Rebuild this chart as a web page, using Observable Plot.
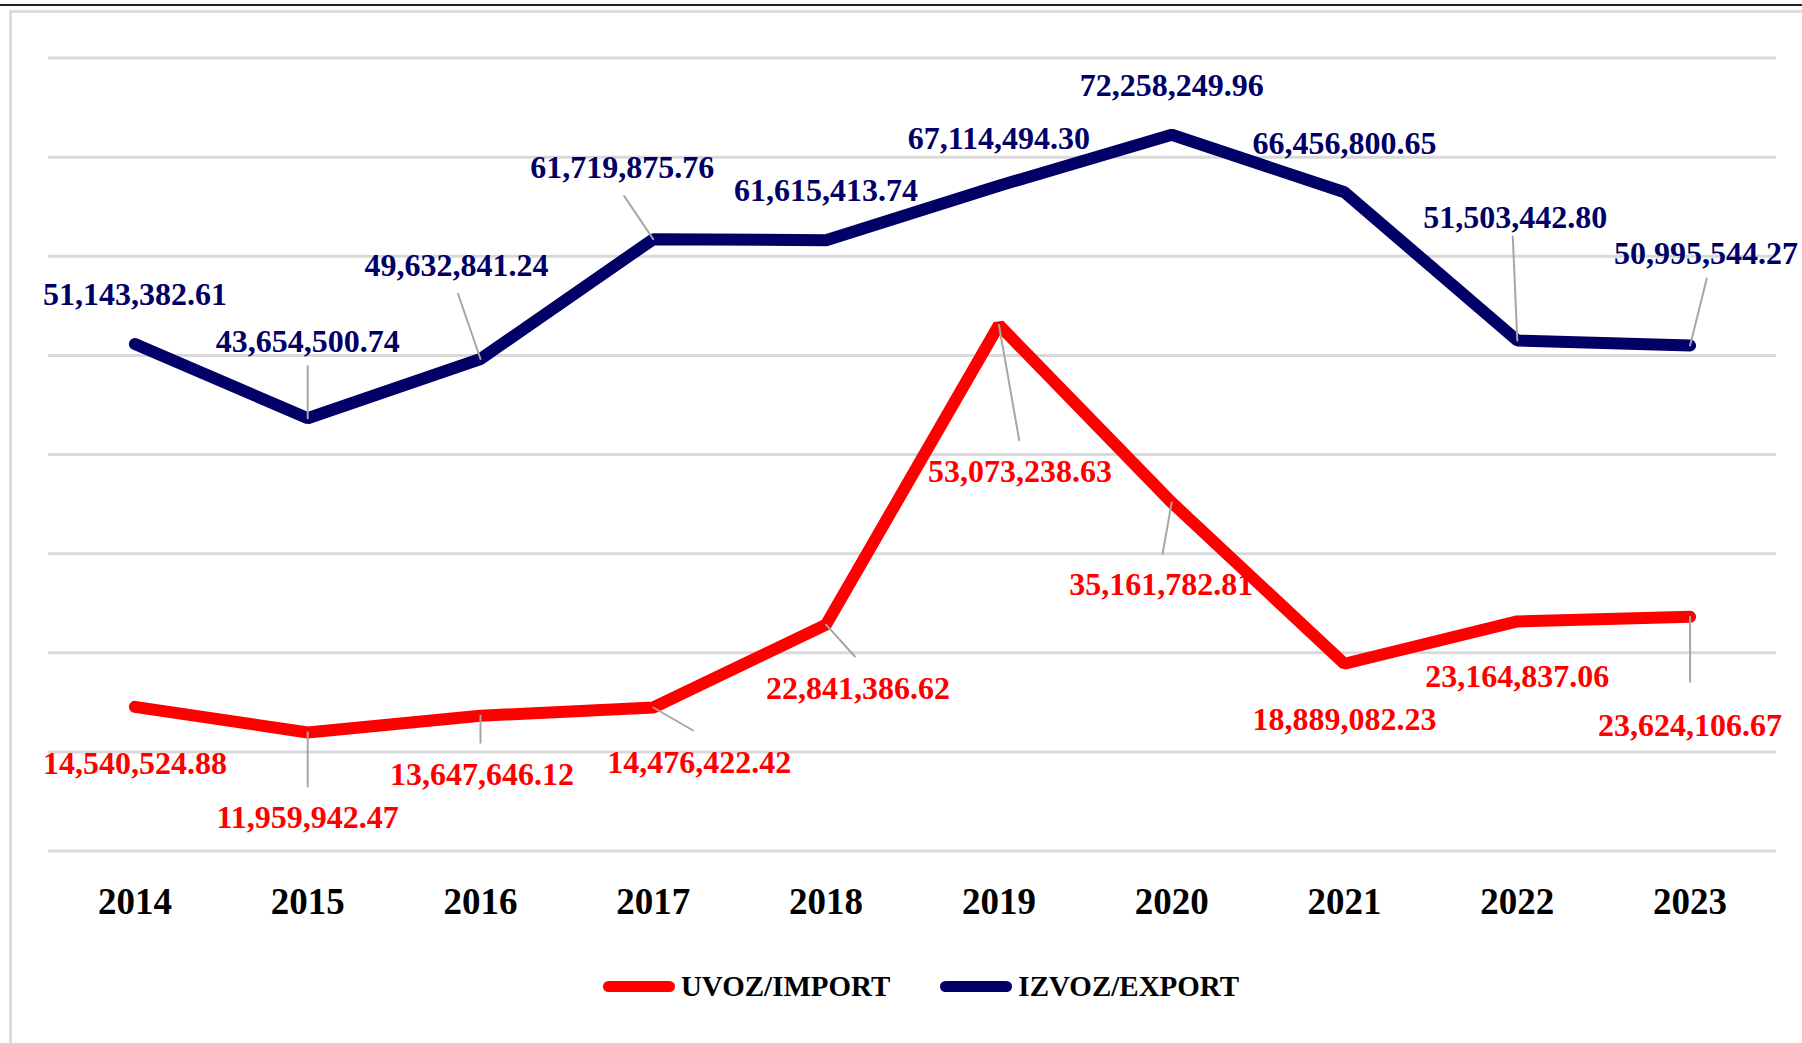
<!DOCTYPE html>
<html>
<head>
<meta charset="utf-8">
<script src="https://cdn.jsdelivr.net/npm/d3@7"></script>
<script src="https://cdn.jsdelivr.net/npm/@observablehq/plot@0.6"></script>
<style>
  html, body { margin: 0; padding: 0; background: #fff; }
  body { width: 1802px; height: 1043px; position: relative; overflow: hidden; font-family: "Liberation Serif", serif; }
  #topline { position: absolute; left: 0; top: 4px; width: 1802px; height: 2px; background: #222; }
  #frame { position: absolute; left: 9px; top: 10px; width: 1820px; height: 1060px; border-left: 3px solid #dcdcdc; border-top: 3px solid #dcdcdc; box-sizing: border-box; }
  #chart { position: absolute; left: 0; top: 0; }
  #legend { position: absolute; left: 0; top: 950px; width: 1802px; height: 72px; display: flex; align-items: center; justify-content: center; padding-left: 40px; box-sizing: border-box; }
  .item { display: flex; align-items: center; margin: 0 25px; }
  .swatch { width: 72px; height: 11px; border-radius: 6px; margin-right: 6px; }
  .lab { font-family: "Liberation Serif", serif; font-weight: bold; font-size: 29px; color: #000; }
</style>
</head>
<body>
<div id="topline"></div>
<div id="frame"></div>
<div id="chart"></div>
<div id="legend"></div>
<script>
const years = [2014, 2015, 2016, 2017, 2018, 2019, 2020, 2021, 2022, 2023];
const importValues = [14540524.88, 11959942.47, 13647646.12, 14476422.42, 22841386.62, 53073238.63, 35161782.81, 18889082.23, 23164837.06, 23624106.67];
const exportValues = [51143382.61, 43654500.74, 49632841.24, 61719875.76, 61615413.74, 67114494.30, 72258249.96, 66456800.65, 51503442.80, 50995544.27];
const yTicks = [0, 10e6, 20e6, 30e6, 40e6, 50e6, 60e6, 70e6, 80e6];
const seriesNames = ["UVOZ/IMPORT", "IZVOZ/EXPORT"];
const seriesColors = ["#ff0000", "#000066"];

// label placement (pixel offsets from the point; optional leader [length, angle])
const importLabelLayout = [
  {dx: 0, dy: 57},
  {dx: 0, dy: 85, leader: [54, 180]},
  {dx: 1.5, dy: 59, leader: [27, 180]},
  {dx: 46, dy: 55, leader: [46, 120]},
  {dx: 32, dy: 64, leader: [43, 138]},
  {dx: 21, dy: 147, leader: [117, 170]},
  {dx: -10.5, dy: 82, leader: [52, -170]},
  {dx: 0, dy: 56},
  {dx: 0, dy: 55},
  {dx: 0, dy: 109, leader: [65, 180]}
];
const exportLabelLayout = [
  {dx: 0, dy: -49},
  {dx: 0, dy: -77, leader: [52, 0]},
  {dx: -24, dy: -93, leader: [69, -19]},
  {dx: -31, dy: -71, leader: [52, -34]},
  {dx: 0, dy: -49},
  {dx: 0, dy: -47},
  {dx: 0, dy: -49},
  {dx: 0, dy: -48},
  {dx: -2, dy: -123, leader: [104, -2.5]},
  {dx: 16, dy: -92, leader: [69, 14]}
];

const importData = years.map((year, i) => ({year, value: importValues[i], series: seriesNames[0]}));
const exportData = years.map((year, i) => ({year, value: exportValues[i], series: seriesNames[1]}));
const fmt = d3.format(",.2f");
const leaderShape = {draw(context, l) { context.moveTo(0, 0); context.lineTo(0, -l); }};

function labelMarks(data, layout, color) {
  const marks = [];
  data.forEach((d, i) => {
    const L = layout[i];
    if (L.leader) {
      marks.push(Plot.vector([d], {x: "year", y: "value", length: L.leader[0], rotate: L.leader[1], anchor: "start", shape: leaderShape, stroke: "#a6a6a6", strokeWidth: 2}));
    }
  });
  data.forEach((d, i) => {
    const L = layout[i];
    marks.push(Plot.text([d], {x: "year", y: "value", text: (e) => fmt(e.value), dx: L.dx, dy: L.dy,
      fill: color, fontSize: 32, fontWeight: "bold", fontFamily: "Liberation Serif"}));
  });
  return marks;
}

const plot = Plot.plot({
  width: 1802,
  height: 950,
  marginLeft: 48,
  marginRight: 26,
  marginTop: 57.5,
  marginBottom: 99.5,
  style: {background: "transparent", fontFamily: "Liberation Serif"},
  x: {type: "point", domain: years, padding: 0.5, round: false, axis: null},
  y: {domain: [0, 80e6], axis: null},
  marks: [
    Plot.ruleY(yTicks, {stroke: "#d9d9d9", strokeWidth: 3}),
    Plot.line(exportData, {x: "year", y: "value", stroke: seriesColors[1], strokeWidth: 12, strokeLinecap: "round", strokeLinejoin: "miter"}),
    Plot.line(importData, {x: "year", y: "value", stroke: seriesColors[0], strokeWidth: 12, strokeLinecap: "round", strokeLinejoin: "miter"}),
    ...labelMarks(exportData, exportLabelLayout, seriesColors[1]),
    ...labelMarks(importData, importLabelLayout, seriesColors[0]),
    Plot.text(years, {x: (d) => d, frameAnchor: "bottom", dy: 63, text: (d) => String(d), fill: "#000", fontSize: 37, fontWeight: "bold", fontFamily: "Liberation Serif"})
  ]
});
document.getElementById("chart").appendChild(plot);

const legend = document.getElementById("legend");
seriesNames.forEach((name, i) => {
  const item = document.createElement("div");
  item.className = "item";
  const sw = document.createElement("div");
  sw.className = "swatch";
  sw.style.background = seriesColors[i];
  const lab = document.createElement("span");
  lab.className = "lab";
  lab.textContent = name;
  item.appendChild(sw);
  item.appendChild(lab);
  legend.appendChild(item);
});
</script>
</body>
</html>
